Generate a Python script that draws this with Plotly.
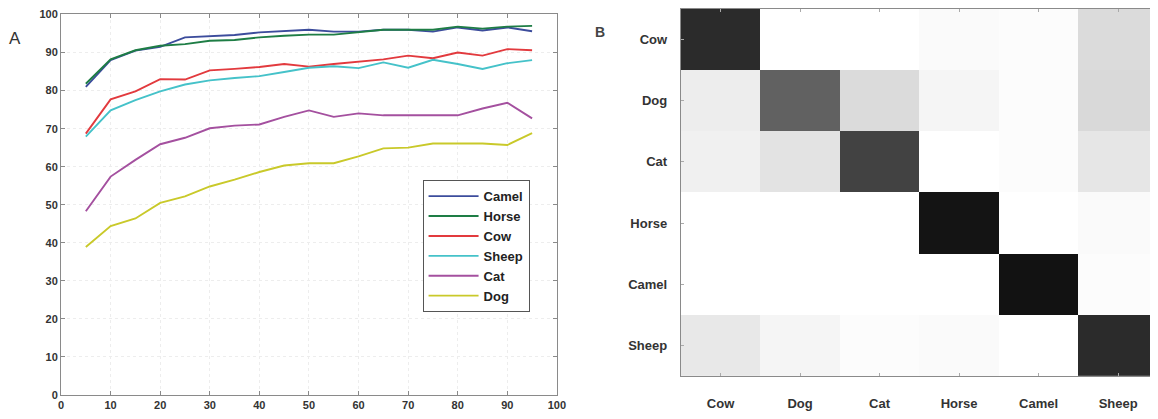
import plotly.graph_objects as go

x_pct = [5, 10, 15, 20, 25, 30, 35, 40, 45, 50, 55, 60, 65, 70, 75, 80, 85, 90, 95]
camel = [81.0, 88.0, 90.5, 91.5, 94.0, 94.3, 94.6, 95.3, 95.7, 96.0, 95.5, 95.5, 96.0, 96.0, 95.5, 96.6, 95.8, 96.6, 95.6]
horse = [81.8, 88.2, 90.6, 91.8, 92.2, 93.1, 93.3, 94.0, 94.4, 94.7, 94.7, 95.4, 96.0, 96.0, 96.0, 96.8, 96.3, 96.8, 97.0]
cow = [68.7, 77.7, 79.8, 83.0, 82.9, 85.3, 85.7, 86.2, 87.0, 86.3, 87.0, 87.6, 88.2, 89.2, 88.5, 90.0, 89.2, 90.9, 90.6]
sheep = [67.9, 74.8, 77.5, 79.8, 81.6, 82.7, 83.3, 83.8, 84.9, 86.0, 86.4, 85.9, 87.4, 86.0, 88.1, 87.0, 85.7, 87.2, 88.0]
cat = [48.3, 57.4, 61.8, 65.9, 67.6, 70.1, 70.8, 71.1, 73.1, 74.8, 73.1, 74.0, 73.5, 73.5, 73.5, 73.5, 75.3, 76.8, 72.7]
dog = [38.9, 44.4, 46.4, 50.5, 52.2, 54.8, 56.6, 58.6, 60.3, 60.9, 60.9, 62.7, 64.8, 65.0, 66.1, 66.1, 66.1, 65.7, 68.8]

series_names = ["Camel", "Horse", "Cow", "Sheep", "Cat", "Dog"]
series_vals = [camel, horse, cow, sheep, cat, dog]
series_colors = ["#3c4c9c", "#1e7d45", "#e23a3e", "#45c2c9", "#a4509f", "#c9c92a"]

x_ticks = [0, 10, 20, 30, 40, 50, 60, 70, 80, 90, 100]
y_ticks = [0, 10, 20, 30, 40, 50, 60, 70, 80, 90, 100]

classes = ["Cow", "Dog", "Cat", "Horse", "Camel", "Sheep"]
confusion = [
    [83, 0, 0, 2, 1, 14],
    [7, 62, 14, 4, 1, 15],
    [6, 11, 74, 0, 1, 10],
    [0, 0, 0, 92, 0, 2],
    [0, 0, 0, 0, 93, 1],
    [9, 4, 1, 2, 0, 83],
]

fig = go.Figure()

for name, vals, col in zip(series_names, series_vals, series_colors):
    fig.add_trace(go.Scatter(x=x_pct, y=vals, mode="lines", name=name,
                             line=dict(color=col, width=1.9),
                             xaxis="x", yaxis="y"))

fig.add_trace(go.Heatmap(z=confusion, x=classes, y=classes,
                         colorscale=[[0, "#ffffff"], [1, "#000000"]],
                         zmin=0, zmax=100, showscale=False,
                         xgap=0, ygap=0, xaxis="x2", yaxis="y2",
                         showlegend=False))

tickfont = dict(family="Liberation Sans", size=11, color="#333333", weight="bold")
axis_common = dict(showline=True, linecolor="#8a8a8a", linewidth=1, mirror="ticks",
                   ticks="inside", ticklen=4, tickcolor="#8a8a8a",
                   showgrid=True, gridcolor="#ededed", griddash="dot",
                   zeroline=False, tickfont=tickfont, automargin=False,
                   ticklabeloverflow="allow")

fig.update_layout(
    width=1158, height=419,
    margin=dict(l=0, r=0, t=0, b=0, autoexpand=False),
    paper_bgcolor="white", plot_bgcolor="white",
    xaxis=dict(domain=[0.0458, 0.474], range=[0, 100], tickvals=x_ticks,
               anchor="y", **axis_common),
    yaxis=dict(domain=[0.0764, 0.9845], range=[0, 100], tickvals=y_ticks,
               anchor="x", **axis_common),
    xaxis2=dict(domain=[0.581, 0.993], anchor="y2", showline=True,
                linecolor="#8a8a8a", mirror="ticks", ticks="inside", ticklen=3,
                tickcolor="#aaaaaa", showgrid=False, zeroline=False, automargin=False,
                tickfont=dict(family="Liberation Sans", size=13, color="#333333", weight="bold"),
                ticklabelstandoff=15),
    yaxis2=dict(domain=[0.1217, 0.998], anchor="x2", autorange="reversed",
                showline=True, linecolor="#8a8a8a", mirror="ticks", ticks="inside",
                ticklen=3, tickcolor="#aaaaaa", showgrid=False, zeroline=False, automargin=False,
                tickfont=dict(family="Liberation Sans", size=13, color="#333333", weight="bold"),
                ticklabelstandoff=10),
    legend=dict(x=0.358, y=0.589, xanchor="left", yanchor="top",
                bgcolor="white", bordercolor="#555555", borderwidth=1,
                font=dict(family="Liberation Sans", size=13, color="#222222", weight="bold"),
                itemwidth=50, tracegroupgap=0),
    showlegend=True,
)

fig.add_annotation(x=0.0058, y=0.928, xref="paper", yref="paper", text="A",
                   showarrow=False, font=dict(family="Liberation Sans", size=17, color="#333333"),
                   xanchor="center", yanchor="middle")
fig.add_annotation(x=0.511, y=0.943, xref="paper", yref="paper", text="B",
                   showarrow=False, font=dict(family="Liberation Sans", size=14, color="#444444", weight="bold"),
                   xanchor="center", yanchor="middle")

fig.write_html("out.html")
